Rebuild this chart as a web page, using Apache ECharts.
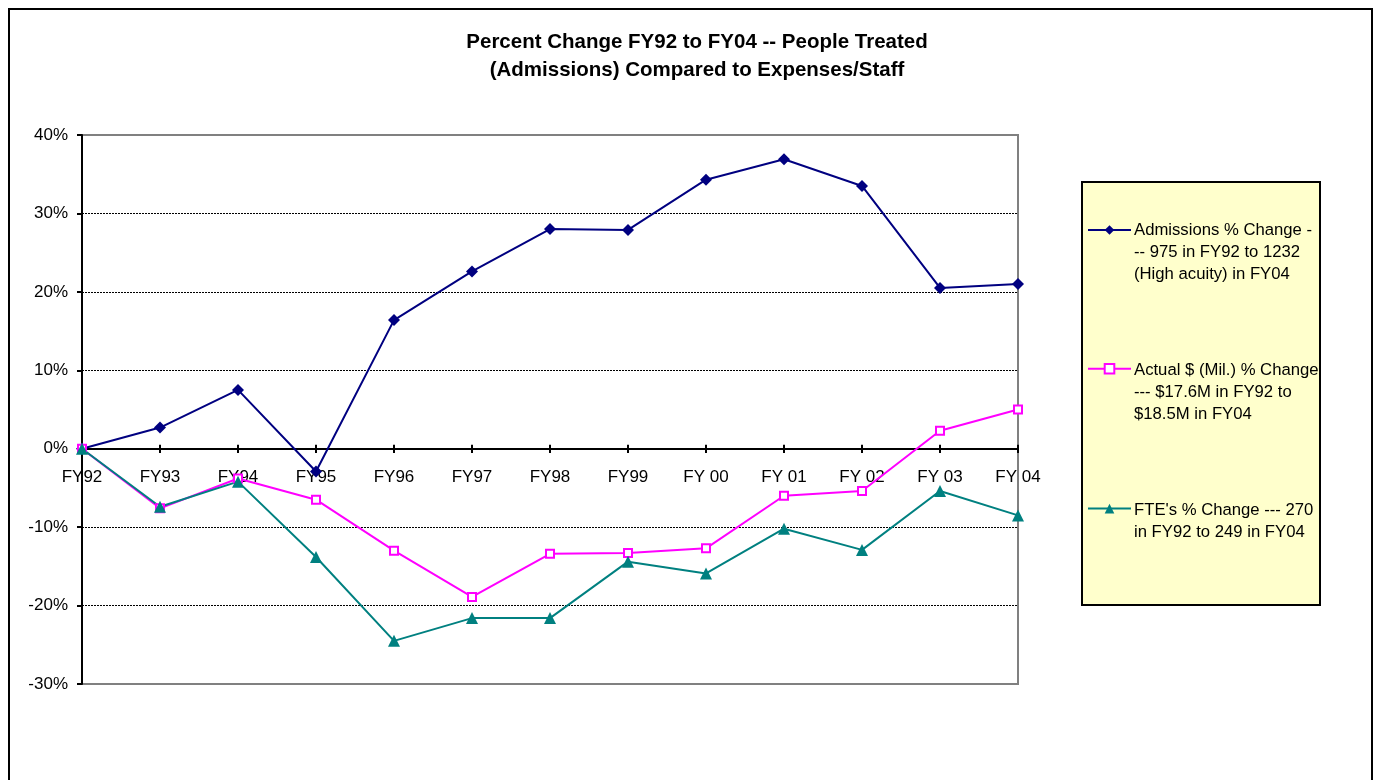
<!DOCTYPE html>
<html style="height: 100%">
<head>
  <meta charset="utf-8">
  <title>Percent Change FY92 to FY04</title>
</head>
<body style="height: 100%; margin: 0; background: #fff">
<div id="container" style="width: 1379px; height: 780px"></div>
<script src="https://cdn.jsdelivr.net/npm/echarts@6/dist/echarts.min.js"></script>
<script type="text/javascript">
  var years = ['FY92', 'FY93', 'FY94', 'FY95', 'FY96', 'FY97', 'FY98', 'FY99', 'FY 00', 'FY 01', 'FY 02', 'FY 03', 'FY 04'];
  var admissions = [0, 2.7, 7.5, -2.9, 16.4, 22.6, 28.0, 27.9, 34.3, 36.9, 33.5, 20.5, 21.0];
  var actualDollars = [0, -7.6, -3.8, -6.5, -13.0, -18.9, -13.4, -13.3, -12.7, -6.0, -5.4, 2.3, 5.0];
  var ftes = [0, -7.4, -4.2, -13.8, -24.5, -21.6, -21.6, -14.4, -15.9, -10.2, -12.9, -5.4, -8.5];

  var nameAdm = 'Admissions % Change -\n-- 975 in FY92 to 1232\n(High acuity) in FY04';
  var nameAct = 'Actual $ (Mil.) % Change\n--- $17.6M in FY92 to\n$18.5M in FY04';
  var nameFte = "FTE's % Change --- 270\nin FY92 to 249 in FY04";

  var font = 'Liberation Sans, Arial, sans-serif';
  var myChart = echarts.init(document.getElementById('container'));

  var option = {
    backgroundColor: '#fff',
    animation: false,
    textStyle: { fontFamily: font },
    title: {
      text: 'Percent Change FY92 to FY04 -- People Treated\n(Admissions) Compared to Expenses/Staff',
      left: 692,
      top: 23,
      textAlign: 'center',
      textStyle: { fontFamily: font, fontSize: 20.5, fontWeight: 'bold', color: '#000', lineHeight: 28 }
    },
    graphic: [
      {
        type: 'rect', z: -10, silent: true,
        shape: { x: 9, y: 9, width: 1363, height: 800 },
        style: { fill: 'none', stroke: '#000', lineWidth: 2 }
      },
      {
        type: 'rect', z: -1, silent: true,
        shape: { x: 1082, y: 182, width: 238, height: 423 },
        style: { fill: '#FFFFCC', stroke: '#000', lineWidth: 2 }
      }
    ],
    legend: [
      {
        // icons only, lined up with the first text line of each entry
        orient: 'vertical',
        left: 1087,
        top: 224,
        padding: 0,
        itemWidth: 43,
        itemHeight: 12,
        itemGap: 128,
        selectedMode: false,
        z: 10,
        formatter: function () { return ''; },
        data: [nameAdm, nameAct, nameFte]
      },
      {
        // entry texts
        orient: 'vertical',
        left: 1129,
        top: 219,
        padding: 0,
        itemWidth: 0,
        itemHeight: 0,
        itemGap: 74,
        icon: 'none',
        selectedMode: false,
        z: 10,
        textStyle: { fontFamily: font, fontSize: 16.7, color: '#000', lineHeight: 22 },
        data: [nameAdm, nameAct, nameFte]
      }
    ],
    grid: {
      left: 82, right: 361, top: 135, bottom: 96,
      show: true,
      backgroundColor: '#fff',
      borderColor: '#808080',
      borderWidth: 2
    },
    xAxis: [
      {
        // labels and downward ticks, shifted up onto the 0% line
        type: 'category',
        data: years,
        boundaryGap: false,
        position: 'bottom',
        offset: -235,
        axisLine: { onZero: false, lineStyle: { color: '#000', width: 2 } },
        axisTick: { show: true, length: 4, lineStyle: { color: '#000', width: 2 } },
        axisLabel: { color: '#000', fontSize: 17, margin: 20, fontFamily: font }
      },
      {
        // upward ticks on the 0% line
        type: 'category',
        data: years,
        boundaryGap: false,
        position: 'top',
        axisLine: { onZero: true, onZeroAxisIndex: 0, lineStyle: { color: '#000', width: 2 } },
        axisTick: { show: true, length: 4, lineStyle: { color: '#000', width: 2 } },
        axisLabel: { show: false }
      }
    ],
    yAxis: {
      type: 'value',
      min: -30,
      max: 40,
      interval: 10,
      axisLine: { show: true, lineStyle: { color: '#000', width: 2 } },
      axisTick: { show: true, length: 5, lineStyle: { color: '#000', width: 2 } },
      axisLabel: { color: '#000', fontSize: 17, margin: 14, formatter: '{value}%', fontFamily: font },
      splitLine: {
        show: true,
        lineStyle: {
          color: ['rgba(0,0,0,0)', '#000', '#000', '#000', '#000', '#000', '#000', 'rgba(0,0,0,0)'],
          type: [2, 1],
          width: 1
        }
      }
    },
    series: [
      {
        name: nameAdm,
        type: 'line',
        data: admissions,
        symbol: 'diamond',
        symbolSize: 12,
        itemStyle: { color: '#000080' },
        lineStyle: { color: '#000080', width: 2 }
      },
      {
        name: nameAct,
        type: 'line',
        data: actualDollars,
        symbol: 'rect',
        symbolSize: 8,
        itemStyle: { color: '#fff', borderColor: '#FF00FF', borderWidth: 2 },
        lineStyle: { color: '#FF00FF', width: 2 }
      },
      {
        name: nameFte,
        type: 'line',
        data: ftes,
        symbol: 'triangle',
        symbolSize: 12,
        itemStyle: { color: '#008080' },
        lineStyle: { color: '#008080', width: 2 }
      }
    ]
  };

  myChart.setOption(option);
</script>
</body>
</html>
